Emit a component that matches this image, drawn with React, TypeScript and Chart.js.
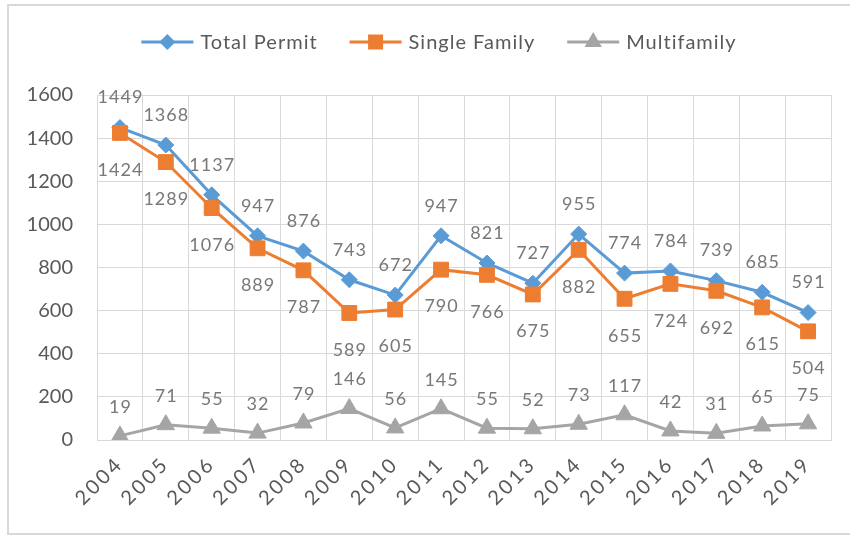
import React, { useEffect, useRef } from "react";
import { Chart, registerables } from "chart.js";

Chart.register(...registerables);

const years = ["2004", "2005", "2006", "2007", "2008", "2009", "2010", "2011", "2012", "2013", "2014", "2015", "2016", "2017", "2018", "2019"];
const totalPermit = [1449, 1368, 1137, 947, 876, 743, 672, 947, 821, 727, 955, 774, 784, 739, 685, 591];
const singleFamily = [1424, 1289, 1076, 889, 787, 589, 605, 790, 766, 675, 882, 655, 724, 692, 615, 504];
const multifamily = [19, 71, 55, 32, 79, 146, 56, 145, 55, 52, 73, 117, 42, 31, 65, 75];
const seriesNames = ["Total Permit", "Single Family", "Multifamily"];
const yMin = 0;
const yMax = 1600;
const yStep = 200;

const BLUE = "#5B9BD5";
const ORANGE = "#ED7D31";
const GRAY = "#A5A5A5";
const GRID = "#D9D9D9";
const TEXT = "#595959";
const LABEL = "#787878";
const FONT = "Lato, 'Noto Sans', sans-serif";

const colors = [BLUE, ORANGE, GRAY];
const markers = ["diamond", "square", "triangle"];
const labelOffsets = [-30, 37, -29];

function drawMarker(ctx: CanvasRenderingContext2D, kind: string, x: number, y: number) {
  ctx.beginPath();
  if (kind === "diamond") {
    const r = 8;
    ctx.moveTo(x, y - r);
    ctx.lineTo(x + r, y);
    ctx.lineTo(x, y + r);
    ctx.lineTo(x - r, y);
  } else if (kind === "square") {
    const h = 7.5;
    ctx.rect(x - h, y - h, 2 * h, 2 * h);
  } else {
    const r = 10;
    ctx.moveTo(x, y - r);
    ctx.lineTo(x + r * 0.866, y + r * 0.5);
    ctx.lineTo(x - r * 0.866, y + r * 0.5);
  }
  ctx.closePath();
  ctx.fill();
}

const legendPlugin = {
  id: "customLegend",
  afterDraw(chart: any) {
    const ctx: CanvasRenderingContext2D = chart.ctx;
    ctx.save();
    ctx.font = `20px ${FONT}`;
    (ctx as any).letterSpacing = "1px";
    ctx.textBaseline = "middle";
    ctx.textAlign = "left";
    const lineLen = 52;
    const gap = 7;
    const itemGap = 32;
    const widths = seriesNames.map((n) => ctx.measureText(n).width);
    const total = widths.reduce((a, w) => a + lineLen + gap + w, 0) + itemGap * (seriesNames.length - 1);
    const centerX = 439;
    const cy = 42;
    let x = centerX - total / 2;
    seriesNames.forEach((name, i) => {
      ctx.strokeStyle = colors[i];
      ctx.fillStyle = colors[i];
      ctx.lineWidth = 3;
      ctx.beginPath();
      ctx.moveTo(x, cy);
      ctx.lineTo(x + lineLen, cy);
      ctx.stroke();
      drawMarker(ctx, markers[i], x + lineLen / 2, cy);
      ctx.fillStyle = TEXT;
      ctx.fillText(name, x + lineLen + gap, cy + 1);
      x += lineLen + gap + widths[i] + itemGap;
    });
    ctx.restore();
  },
};

const dataLabelPlugin = {
  id: "valueLabels",
  afterDatasetsDraw(chart: any) {
    const ctx: CanvasRenderingContext2D = chart.ctx;
    ctx.save();
    ctx.font = `18px ${FONT}`;
    (ctx as any).letterSpacing = "1px";
    ctx.fillStyle = LABEL;
    ctx.textAlign = "center";
    ctx.textBaseline = "middle";
    chart.data.datasets.forEach((ds: any, i: number) => {
      const meta = chart.getDatasetMeta(i);
      meta.data.forEach((pt: any, j: number) => {
        ctx.fillText(String(ds.data[j]), pt.x + 0.5, pt.y + labelOffsets[i]);
      });
    });
    ctx.restore();
  },
};

const spacingPlugin = {
  id: "xLabelSpacing",
  afterLayout(chart: any) {
    const xs = chart.scales.x;
    if (xs && !xs.__patched) {
      const orig = xs.drawLabels.bind(xs);
      xs.drawLabels = (area: any) => {
        const c = xs.ctx;
        c.save();
        c.letterSpacing = "3px";
        orig(area);
        c.restore();
      };
      xs.__patched = true;
    }
  },
};

export default function App() {
  const canvasRef = useRef<HTMLCanvasElement | null>(null);

  useEffect(() => {
    if (!canvasRef.current) return;
    const chart = new Chart(canvasRef.current, {
      type: "line",
      data: {
        labels: years,
        datasets: [
          {
            label: seriesNames[0],
            data: totalPermit,
            borderColor: BLUE,
            backgroundColor: BLUE,
            borderWidth: 3,
            pointStyle: "rectRot",
            pointRadius: 8,
            pointBorderWidth: 1,
            pointBackgroundColor: BLUE,
            pointBorderColor: BLUE,
            tension: 0,
            order: 3,
          },
          {
            label: seriesNames[1],
            data: singleFamily,
            borderColor: ORANGE,
            backgroundColor: ORANGE,
            borderWidth: 3,
            pointStyle: "rect",
            pointRadius: 10.5,
            pointBorderWidth: 1,
            pointBackgroundColor: ORANGE,
            pointBorderColor: ORANGE,
            tension: 0,
            order: 2,
          },
          {
            label: seriesNames[2],
            data: multifamily,
            borderColor: GRAY,
            backgroundColor: GRAY,
            borderWidth: 3,
            pointStyle: "triangle",
            pointRadius: 10,
            pointBorderWidth: 1,
            pointBackgroundColor: GRAY,
            pointBorderColor: GRAY,
            tension: 0,
            order: 1,
          },
        ],
      },
      options: {
        animation: false,
        responsive: false,
        maintainAspectRatio: false,
        devicePixelRatio: 1,
        layout: { padding: { top: 95, right: 19, bottom: 0, left: 0 } },
        plugins: {
          legend: { display: false },
          tooltip: { enabled: false },
        },
        scales: {
          x: {
            type: "category",
            offset: true,
            grid: { color: GRID, lineWidth: 1, offset: true, drawTicks: false },
            border: { color: GRID, width: 1 },
            ticks: {
              color: TEXT,
              font: { family: FONT, size: 20 },
              maxRotation: 45,
              minRotation: 45,
              padding: 12,
              autoSkip: false,
            },
            afterFit: (scale: any) => {
              scale.height = 95;
            },
          },
          y: {
            min: yMin,
            max: yMax,
            grid: { color: GRID, lineWidth: 1, drawTicks: false },
            border: { color: GRID, width: 1 },
            ticks: {
              stepSize: yStep,
              color: TEXT,
              font: { family: FONT, size: 20 },
              padding: 24,
              callback: (v: any) => String(v),
            },
            afterFit: (scale: any) => {
              scale.width = 97;
            },
          },
        },
      },
      plugins: [spacingPlugin, dataLabelPlugin, legendPlugin],
    });
    return () => chart.destroy();
  }, []);

  return (
    <div style={{ position: "absolute", left: 0, top: 0, width: 850, height: 535, overflow: "hidden", background: "#fff" }}>
      <div
        style={{
          position: "absolute",
          left: 7,
          top: 4,
          width: 860,
          height: 531,
          boxSizing: "border-box",
          borderLeft: "2px solid #D9D9D9",
          borderTop: "2px solid #D9D9D9",
          borderBottom: "2px solid #D9D9D9",
        }}
      />
      <canvas ref={canvasRef} width={850} height={535} style={{ position: "absolute", left: 0, top: 0, width: 850, height: 535 }} />
    </div>
  );
}
